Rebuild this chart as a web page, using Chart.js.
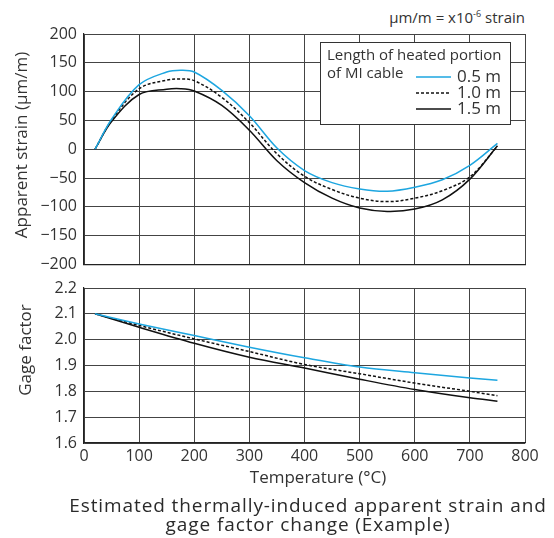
<!DOCTYPE html>
<html>
<head>
<meta charset="utf-8">
<script src="https://cdn.jsdelivr.net/npm/chart.js@4.4.1/dist/chart.umd.min.js"></script>
<style>
  html, body { margin: 0; padding: 0; background: #fff; }
  body { width: 554px; height: 538px; position: relative; overflow: hidden; font-family: 'Open Sans', sans-serif; color: #333; }
  #topWrap { position: absolute; left: 0; top: 0; width: 554px; height: 281px; }
  #botWrap { position: absolute; left: 0; top: 271px; width: 554px; height: 222px; }
  #unit { position: absolute; right: 29px; top: 7px; font-size: 15px; }
  #unit sup { font-size: 9px; }
  #caption { position: absolute; left: 60px; width: 496px; top: 496px; text-align: center; font-size: 19px; line-height: 19px; letter-spacing: 0.9px; color: #2a2a2a; }
</style>
</head>
<body>
<div id="unit">μm/m = x10<sup>-6</sup> strain</div>
<div id="topWrap"><canvas id="strainChart" width="554" height="281"></canvas></div>
<div id="botWrap"><canvas id="gageChart" width="554" height="222"></canvas></div>
<div id="caption">Estimated thermally-induced apparent strain and<br>gage factor change (Example)</div>
<script>
// apparent strain (µm/m) vs temperature (°C)
const strainTemps = [20, 50, 100, 150, 175, 200, 250, 300, 350, 400, 450, 500, 550, 600, 650, 700, 750];
const strain05 = [0, 52, 112, 134, 137, 134, 102, 58, 2, -37, -58, -69, -73, -66, -53, -28, 10];
const strain10 = [0, 50, 105, 120, 122, 119, 90, 46, -8, -47, -70, -85, -91, -85, -72, -48, 5];
const strain15 = [0, 48, 95, 104, 105, 101, 76, 33, -20, -58, -85, -102, -108, -104, -88, -52, 6];

// gage factor vs temperature (°C)
const gageTemps = [20, 100, 200, 300, 400, 500, 600, 700, 750];
const gage05 = [2.10, 2.061, 2.016, 1.971, 1.930, 1.894, 1.872, 1.852, 1.843];
const gage10 = [2.10, 2.055, 2.003, 1.954, 1.904, 1.868, 1.832, 1.800, 1.783];
const gage15 = [2.10, 2.048, 1.986, 1.932, 1.890, 1.847, 1.807, 1.775, 1.762];

const seriesLabels = ['0.5 m', '1.0 m', '1.5 m'];
const legendTitle = ['Length of heated portion', 'of MI cable'];

const BLUE = '#1da6e0';
const BLACK = '#111';
const FONT = "'Open Sans', sans-serif";

Chart.defaults.font.family = FONT;
Chart.defaults.color = '#333';

function toPoints(xs, ys) {
	return ys.map((y, i) => ({ x: xs[i], y: y }));
}

function makeDatasets(xs, a, b, c) {
	return [
		{ label: seriesLabels[0], data: toPoints(xs, a), borderColor: BLUE, borderWidth: 1.5 },
		{ label: seriesLabels[1], data: toPoints(xs, b), borderColor: BLACK, borderWidth: 1.5, borderDash: [3, 2] },
		{ label: seriesLabels[2], data: toPoints(xs, c), borderColor: BLACK, borderWidth: 1.5 }
	];
}

// boxed legend drawn inside the top plot
const legendBox = {
	id: 'legendBox',
	afterDatasetsDraw(chart) {
		const ctx = chart.ctx;
		const area = chart.chartArea;
		const x = area.right - 205, y = area.top + 8, w = 190, h = 82;
		ctx.save();
		ctx.fillStyle = '#fff';
		ctx.fillRect(x, y, w, h);
		ctx.strokeStyle = '#333';
		ctx.lineWidth = 1;
		ctx.strokeRect(x + 0.5, y + 0.5, w, h);
		ctx.fillStyle = '#333';
		ctx.textBaseline = 'middle';
		ctx.font = '15px ' + FONT;
		ctx.fillText(legendTitle[0], x + 7, y + 14);
		ctx.fillText(legendTitle[1], x + 7, y + 32);
		chart.data.datasets.forEach((ds, i) => {
			const ly = y + 35 + i * 16;
			ctx.strokeStyle = ds.borderColor;
			ctx.lineWidth = ds.borderWidth;
			ctx.setLineDash(ds.borderDash || []);
			ctx.beginPath();
			ctx.moveTo(x + 96, ly);
			ctx.lineTo(x + 131, ly);
			ctx.stroke();
			ctx.setLineDash([]);
			ctx.font = '17px ' + FONT;
			ctx.fillText(ds.label, x + 137, ly);
		});
		ctx.restore();
	}
};

// axis titles placed relative to the plot area
const axisTitles = {
	id: 'axisTitles',
	afterDraw(chart, args, opts) {
		const ctx = chart.ctx;
		const area = chart.chartArea;
		ctx.save();
		ctx.fillStyle = '#333';
		ctx.font = '17px ' + FONT;
		ctx.textAlign = 'center';
		ctx.textBaseline = 'middle';
		(opts.items || []).forEach((t) => {
			ctx.save();
			ctx.translate(area.left + t.dx, area.top + t.dy);
			if (t.rotate) ctx.rotate(-Math.PI / 2);
			ctx.fillText(t.text, 0, 0);
			ctx.restore();
		});
		ctx.restore();
	}
};

const gridStyle = { color: '#444', lineWidth: 1, drawTicks: false };
const borderStyle = { color: '#222', width: 1.2 };

const baseOptions = {
	responsive: false,
	animation: false,
	devicePixelRatio: 1,
	elements: { point: { radius: 0 } }
};

new Chart(document.getElementById('strainChart'), {
	type: 'line',
	data: { datasets: makeDatasets(strainTemps, strain05, strain10, strain15) },
	options: {
		...baseOptions,
		elements: { point: { radius: 0 }, line: { tension: 0.35, fill: false } },
		layout: { padding: { top: 34, right: 29, bottom: 0, left: 0 } },
		plugins: {
			legend: { display: false }, tooltip: { enabled: false },
			axisTitles: { items: [{ text: 'Apparent strain (μm/m)', dx: -62, dy: 111, rotate: true }] }
		},
		scales: {
			x: {
				type: 'linear', min: 0, max: 800,
				ticks: { stepSize: 100, display: false },
				grid: gridStyle, border: borderStyle,
				afterFit: (scale) => { scale.height = 0; }
			},
			y: {
				min: -200, max: 200,
				ticks: { stepSize: 50, padding: 7, font: { size: 16 }, callback: (v) => String(v).replace('-', '\u2212') },
				grid: gridStyle, border: borderStyle,
				afterFit: (scale) => { scale.width = 84; }
			}
		}
	},
	plugins: [legendBox, axisTitles]
});

new Chart(document.getElementById('gageChart'), {
	type: 'line',
	data: { datasets: makeDatasets(gageTemps, gage05, gage10, gage15) },
	options: {
		...baseOptions,
		elements: { point: { radius: 0 }, line: { cubicInterpolationMode: 'monotone', fill: false } },
		layout: { padding: { top: 17, right: 29, bottom: 0, left: 0 } },
		plugins: {
			legend: { display: false }, tooltip: { enabled: false },
			axisTitles: { items: [
				{ text: 'Gage factor', dx: -58, dy: 62, rotate: true },
				{ text: 'Temperature (°C)', dx: 234, dy: 190, rotate: false }
			] }
		},
		scales: {
			x: {
				type: 'linear', min: 0, max: 800,
				ticks: { stepSize: 100, padding: 4, font: { size: 16 } },
				grid: gridStyle, border: borderStyle,
				afterFit: (scale) => { scale.height = 50; }
			},
			y: {
				min: 1.6, max: 2.2,
				ticks: { stepSize: 0.1, padding: 7, font: { size: 16 }, callback: (v) => v.toFixed(1) },
				grid: gridStyle, border: borderStyle,
				afterFit: (scale) => { scale.width = 84; }
			}
		}
	},
	plugins: [axisTitles]
});
</script>
</body>
</html>
